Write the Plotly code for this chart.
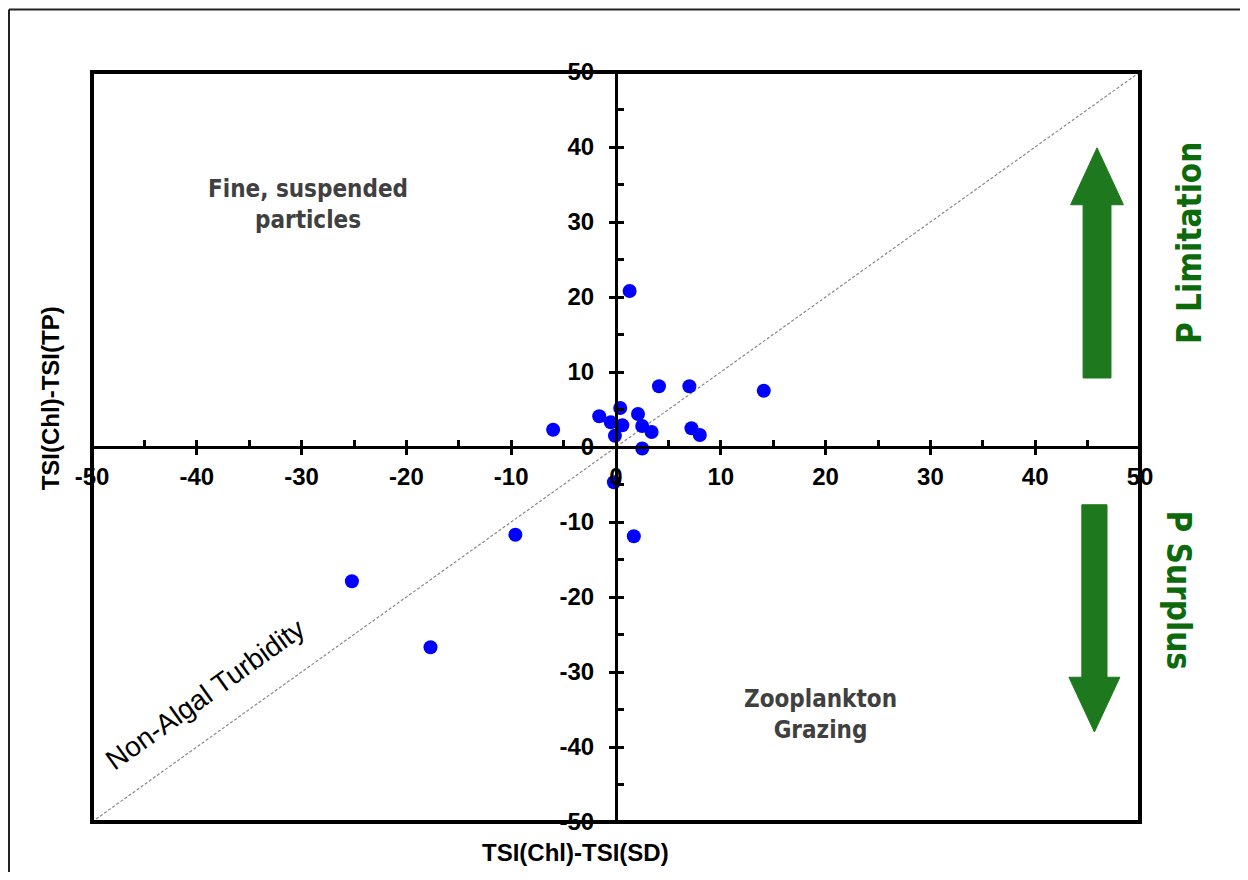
import plotly.graph_objects as go

# ---- data ----
chl_minus_sd = [1.3, 4.1, 7.0, 14.1, 0.4, -1.6, 2.1, -0.5, 0.6, 2.5, 3.4, 7.2, 8.0, -0.1,
                -6.0, 2.5, -0.2, -9.6, 1.7, -25.2, -17.7]
chl_minus_tp = [20.8, 8.1, 8.1, 7.5, 5.2, 4.1, 4.4, 3.3, 2.9, 2.8, 2.0, 2.5, 1.6, 1.5,
                2.3, -0.2, -4.7, -11.7, -11.9, -17.9, -26.7]
axis_range = [-50, 50]
major_ticks = [-50, -40, -30, -20, -10, 0, 10, 20, 30, 40, 50]
tick_labels = [str(v) for v in major_ticks]

x_title = "TSI(Chl)-TSI(SD)"
y_title = "TSI(Chl)-TSI(TP)"

BOLD = dict(family="Liberation Sans, Arial, sans-serif", color="black", weight="bold")
NARROW = "Liberation Sans Narrow, DejaVu Sans Condensed, Roboto Condensed, Liberation Sans, sans-serif"
GREEN_ARROW = "#1e781e"
GREEN_TEXT = "#0c6a0c"

fig = go.Figure()

# 1:1 reference line
fig.add_trace(go.Scatter(x=axis_range, y=axis_range, mode="lines",
                         line=dict(color="#8a8a8a", width=1.2, dash="3px,2px"),
                         hoverinfo="skip", showlegend=False))

# data points
fig.add_trace(go.Scatter(x=chl_minus_sd, y=chl_minus_tp, mode="markers",
                         marker=dict(color="#0000ff", size=14, line=dict(width=0)),
                         showlegend=False))

# invisible trace to host the overlay axes (inner half of major ticks)
fig.add_trace(go.Scatter(x=[None], y=[None], xaxis="x2", yaxis="y2",
                         showlegend=False, hoverinfo="skip"))

common = dict(range=axis_range, showgrid=False, zeroline=False, fixedrange=True)

# page body has an 8px margin, so the figure is placed at (8, 8)
fig.update_layout(
    width=1240, height=864,
    margin=dict(l=84, r=108, t=64, b=50),
    paper_bgcolor="white", plot_bgcolor="white",
    xaxis=dict(**common, anchor="free", position=0.5,
               showline=True, linecolor="black", linewidth=3,
               tickmode="array", tickvals=major_ticks, ticktext=tick_labels,
               ticks="outside", ticklen=6, tickwidth=3, tickcolor="black",
               tickfont=dict(**BOLD, size=24), ticklabelstandoff=1,
               minor=dict(dtick=5, tick0=0, ticks="inside", ticklen=6,
                          tickwidth=3, tickcolor="black")),
    yaxis=dict(**common, anchor="free", position=0.5,
               showline=True, linecolor="black", linewidth=3,
               tickmode="array", tickvals=major_ticks, ticktext=tick_labels,
               ticks="outside", ticklen=6, tickwidth=3, tickcolor="black",
               tickfont=dict(**BOLD, size=24), ticklabelstandoff=10,
               minor=dict(dtick=5, tick0=0, ticks="inside", ticklen=6,
                          tickwidth=3, tickcolor="black")),
    xaxis2=dict(**common, overlaying="x", anchor="free", position=0.5,
                showline=False, tickmode="array", tickvals=major_ticks,
                ticks="inside", ticklen=6, tickwidth=3, tickcolor="black",
                showticklabels=False),
    yaxis2=dict(**common, overlaying="y", anchor="free", position=0.5,
                showline=False, tickmode="array", tickvals=major_ticks,
                ticks="inside", ticklen=6, tickwidth=3, tickcolor="black",
                showticklabels=False),
    showlegend=False,
)

# plot frame
fig.add_shape(type="rect", xref="paper", yref="paper", x0=0, x1=1, y0=0, y1=1,
              line=dict(color="black", width=4), layer="above")
# outer border: only its left and top edges fall inside the page
fig.add_shape(type="line", xref="paper", yref="paper",
              x0=-0.0792, x1=-0.0792, y0=-0.3, y1=1.0835,
              line=dict(color="#222222", width=2), layer="below")
fig.add_shape(type="line", xref="paper", yref="paper",
              x0=-0.0792, x1=1.5, y0=1.0835, y1=1.0835,
              line=dict(color="#222222", width=2), layer="below")


def arrow_path(xc, y_tail, y_base, y_tip, shaft_half, head_half):
    pts = [(xc - shaft_half, y_tail), (xc - shaft_half, y_base), (xc - head_half, y_base),
           (xc, y_tip), (xc + head_half, y_base), (xc + shaft_half, y_base),
           (xc + shaft_half, y_tail)]
    return "M " + " L ".join(f"{x},{y}" for x, y in pts) + " Z"


fig.add_shape(type="path", xref="x", yref="y",
              path=arrow_path(45.9, 9.2, 32.3, 39.9, 1.33, 2.52),
              fillcolor=GREEN_ARROW, line=dict(color=GREEN_ARROW, width=1))
fig.add_shape(type="path", xref="x", yref="y",
              path=arrow_path(45.65, -7.7, -30.7, -38.0, 1.2, 2.43),
              fillcolor=GREEN_ARROW, line=dict(color=GREEN_ARROW, width=1))

C = dict(showarrow=False, xanchor="center", yanchor="middle")

# texts
fig.add_annotation(x=-29.4, y=32.3, xref="x", yref="y", **C,
                   text="Fine, suspended<br>particles", align="center",
                   font=dict(family=NARROW, size=24, color="#404040", weight="bold"))
fig.add_annotation(x=19.5, y=-35.7, xref="x", yref="y", **C,
                   text="Zooplankton<br>Grazing", align="center",
                   font=dict(family=NARROW, size=24, color="#404040", weight="bold"))
fig.add_annotation(x=-39.2, y=-33.0, xref="x", yref="y", **C,
                   text="Non-Algal Turbidity", textangle=-35.6,
                   font=dict(family="Liberation Sans, Arial, sans-serif", size=28, color="black"))
fig.add_annotation(x=1.0477, y=0.772, xref="paper", yref="paper", **C,
                   text="P Limitation", textangle=-90,
                   font=dict(family=NARROW, size=33, color=GREEN_TEXT, weight="bold"))
fig.add_annotation(x=1.037, y=0.309, xref="paper", yref="paper", **C,
                   text="P Surplus", textangle=90,
                   font=dict(family=NARROW, size=33, color=GREEN_TEXT, weight="bold"))
fig.add_annotation(x=0.461, y=-0.041, xref="paper", yref="paper", **C,
                   text=x_title, font=dict(**BOLD, size=24))
fig.add_annotation(x=-0.040, y=0.565, xref="paper", yref="paper", **C,
                   text=y_title, textangle=-90, font=dict(**BOLD, size=24))

fig.write_html("out.html")
